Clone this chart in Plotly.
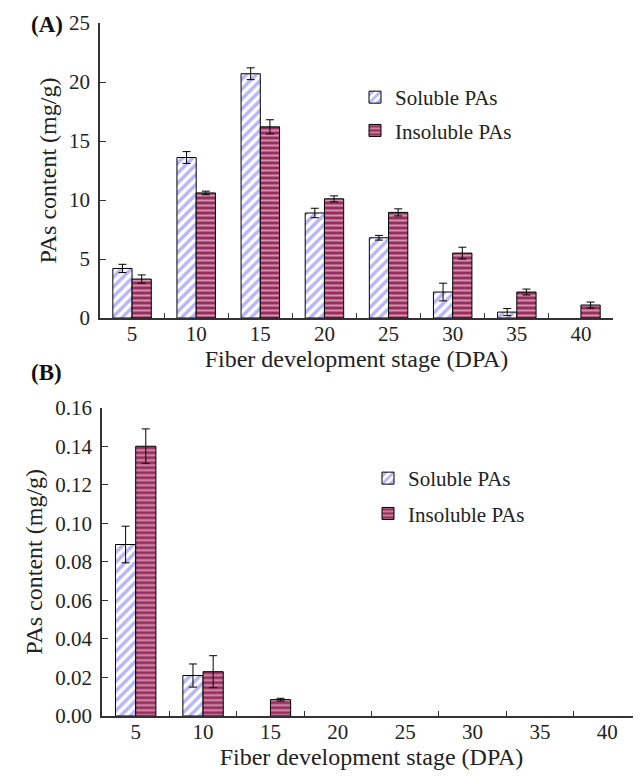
import plotly.graph_objects as go

stages = ["5", "10", "15", "20", "25", "30", "35", "40"]

a_soluble = [4.2, 13.6, 20.7, 8.9, 6.8, 2.2, 0.5, None]
a_soluble_err = [0.35, 0.5, 0.5, 0.4, 0.2, 0.75, 0.3, None]
a_insoluble = [3.3, 10.6, 16.2, 10.1, 8.95, 5.5, 2.2, 1.1]
a_insoluble_err = [0.35, 0.15, 0.6, 0.25, 0.3, 0.5, 0.25, 0.25]

b_soluble = [0.089, 0.021, None, None, None, None, None, None]
b_soluble_err = [0.0095, 0.006, None, None, None, None, None, None]
b_insoluble = [0.140, 0.023, 0.0085, None, None, None, None, None]
b_insoluble_err = [0.009, 0.0083, 0.0007, None, None, None, None, None]

y_ticks_a = [0, 5, 10, 15, 20, 25]
y_ticks_b = [0, 0.02, 0.04, 0.06, 0.08, 0.10, 0.12, 0.14, 0.16]
y_ticks_b_text = ["0.00", "0.02", "0.04", "0.06", "0.08", "0.10", "0.12", "0.14", "0.16"]

FONT = "Liberation Serif"
SOL_PAT = dict(shape="/", fgcolor="#6f6ff0", bgcolor="white", size=7, solidity=0.5)
INS_PAT = dict(shape="-", fgcolor="white", bgcolor="#9b2d5e", size=5, solidity=0.4)
ERR = dict(type="data", color="black", thickness=1, width=4)

fig = go.Figure()

def add(y, err, name, pat, xa, ya, legend, group):
    fig.add_trace(go.Bar(
        x=stages, y=y, name=name, xaxis=xa, yaxis=ya, legend=legend,
        legendgroup=group,
        marker=dict(color=pat["bgcolor"], pattern=pat, line=dict(color="black", width=1)),
        error_y=dict(array=err, **ERR),
    ))

add(a_soluble, a_soluble_err, "Soluble PAs", SOL_PAT, "x", "y", "legend", "a1")
add(a_insoluble, a_insoluble_err, "Insoluble PAs", INS_PAT, "x", "y", "legend", "a2")
add(b_soluble, b_soluble_err, "Soluble PAs", SOL_PAT, "x2", "y2", "legend2", "b1")
add(b_insoluble, b_insoluble_err, "Insoluble PAs", INS_PAT, "x2", "y2", "legend2", "b2")

# page body has an 8px margin, so the figure is drawn 8px in from the window corner
OFF = 8
W, H = 641 - OFF, 778 - 2 * OFF
L, R, T, B = 100 - OFF, 0, 23 - OFF, H - (716 - OFF)
pw, ph = W - L - R, H - T - B

def px_x(sx):
    return (sx - OFF - L) / pw

def px_y(sy):
    return (H - B - (sy - OFF)) / ph

tickfont = dict(family=FONT, size=21, color="#222")
titlefont = dict(family=FONT, size=24, color="#222")

common_x = dict(type="category", showline=True, linecolor="#333", linewidth=1.5,
                ticks="inside", tickson="boundaries", ticklen=5, tickcolor="#333",
                tickfont=tickfont, showgrid=False, zeroline=False, automargin=False,
                ticklabelstandoff=-4, range=[-0.5, 7.5])
common_y = dict(showline=True, linecolor="#333", linewidth=1.5, ticks="inside",
                ticklen=6, tickcolor="#333", tickfont=tickfont, showgrid=False,
                zeroline=False, automargin=False, ticklabelstandoff=4)

fig.update_layout(
    width=W, height=H,
    margin=dict(l=L, r=R, t=T, b=B),
    paper_bgcolor="white", plot_bgcolor="white",
    barmode="group", bargap=0.4, bargroupgap=0,
    font=dict(family=FONT, color="#222"),
    xaxis=dict(domain=[0, px_x(613)], anchor="y",
               title=dict(text="Fiber development stage (DPA)", font=titlefont, standoff=0),
               **common_x),
    yaxis=dict(domain=[px_y(318), 1], anchor="x", range=[0, 25], tickvals=y_ticks_a,
               title=dict(text="PAs content (mg/g)", font=titlefont, standoff=6),
               **common_y),
    xaxis2=dict(domain=[px_x(102), 1], anchor="y2",
                title=dict(text="Fiber development stage (DPA)", font=titlefont, standoff=6),
                **common_x),
    yaxis2=dict(domain=[0, px_y(407.7)], anchor="x2", range=[0, 0.16],
                tickvals=y_ticks_b, ticktext=y_ticks_b_text,
                title=dict(text="PAs content (mg/g)", font=titlefont, standoff=6),
                **common_y),
    legend=dict(x=px_x(355), y=px_y(77), xanchor="left", yanchor="top",
                font=dict(family=FONT, size=21, color="#222"),
                traceorder="grouped", tracegroupgap=3, bgcolor="rgba(0,0,0,0)"),
    legend2=dict(x=px_x(368), y=px_y(458), xanchor="left", yanchor="top",
                 font=dict(family=FONT, size=21, color="#222"),
                 traceorder="grouped", tracegroupgap=5, bgcolor="rgba(0,0,0,0)"),
    annotations=[
        dict(text="<b>(A)</b>", x=px_x(29), y=px_y(24), xref="paper", yref="paper",
             xanchor="left", yanchor="middle", showarrow=False,
             font=dict(family=FONT, size=23, color="#111")),
        dict(text="<b>(B)</b>", x=px_x(29), y=px_y(373), xref="paper", yref="paper",
             xanchor="left", yanchor="middle", showarrow=False,
             font=dict(family=FONT, size=23, color="#111")),
    ],
)

fig.write_html("out.html")
